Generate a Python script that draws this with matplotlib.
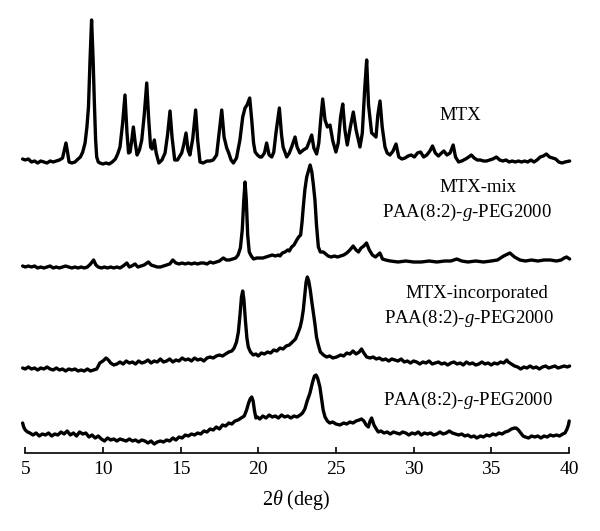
"""
XRD patterns of MTX, the MTX / PAA(8:2)-g-PEG2000 physical mix, the
MTX-incorporated polymer and the bare polymer, stacked with vertical offsets.
"""

import matplotlib
matplotlib.use("Agg")
import matplotlib.pyplot as plt

# --------------------------------------------------------------------------- #
# Data (2theta in deg, intensity in arbitrary units above each trace baseline)
# --------------------------------------------------------------------------- #

MTX_X = [4.83, 5.0, 5.2, 5.4, 5.6, 5.8, 6.0, 6.2, 6.4, 6.6, 6.8, 7.0, 7.2, 7.4,
         7.52, 7.62, 7.72, 7.82, 8.0, 8.2, 8.4, 8.55, 8.7, 8.85, 8.97, 9.07,
         9.17, 9.27, 9.37, 9.45, 9.53, 9.6, 9.7, 9.81, 10.0, 10.2, 10.4, 10.6,
         10.8, 10.95, 11.1, 11.27, 11.42, 11.55, 11.65, 11.75, 11.85, 11.96,
         12.08, 12.2, 12.35, 12.5, 12.66, 12.82, 12.95, 13.07, 13.17, 13.31,
         13.43, 13.6, 13.8, 14.0, 14.16, 14.32, 14.45, 14.62, 14.8, 14.95,
         15.07, 15.2, 15.35, 15.48, 15.6, 15.78, 15.97, 16.1, 16.25, 16.45,
         16.7, 16.9, 17.1, 17.32, 17.5, 17.65, 17.8, 17.97, 18.1, 18.25, 18.4,
         18.6, 18.82, 19.0, 19.15, 19.28, 19.45, 19.58, 19.7, 19.8, 19.95,
         20.1, 20.22, 20.4, 20.54, 20.7, 20.87, 21.0, 21.14, 21.36, 21.5, 21.6,
         21.83, 22.0, 22.15, 22.37, 22.5, 22.68, 22.9, 23.12, 23.3, 23.44,
         23.58, 23.76, 23.9, 24.02, 24.15, 24.3, 24.45, 24.62, 24.8, 25.0,
         25.15, 25.3, 25.44, 25.58, 25.73, 25.93, 26.12, 26.3, 26.55, 26.7,
         26.85, 26.98, 27.1, 27.3, 27.45, 27.58, 27.7, 27.84, 27.98, 28.16,
         28.3, 28.48, 28.68, 28.87, 29.05, 29.25, 29.45, 29.65, 29.85, 30.05,
         30.25, 30.45, 30.65, 30.85, 31.05, 31.22, 31.4, 31.6, 31.8, 31.95,
         32.15, 32.35, 32.55, 32.7, 32.9, 33.1, 33.35, 33.55, 33.72, 33.9, 34.1,
         34.3, 34.5, 34.7, 34.9, 35.1, 35.33, 35.55, 35.75, 35.95, 36.15,
         36.35, 36.55, 36.75, 36.95, 37.15, 37.35, 37.55, 37.75, 37.95, 38.15,
         38.35, 38.55, 38.75, 38.95, 39.15, 39.35, 39.55, 39.75, 40.05]
MTX_Y = [6, 5, 6, 3, 4, 2, 4, 3, 2, 4, 3, 4, 5, 7,
         15, 22, 13, 3, 2, 3, 6, 8, 13, 22, 38, 58,
         105, 145, 105, 62, 25, 8, 3, 2, 1, 2, 1, 3,
         6, 11, 18, 42, 70, 32, 12, 13, 24, 38,
         22, 10, 15, 25, 50, 82, 45, 18, 16, 25,
         12, 2, 5, 12, 30, 54, 28, 5, 5, 9,
         12, 20, 32, 15, 10, 26, 55, 25, 3, 2,
         4, 4, 5, 10, 35, 55, 28, 17, 12, 5, 2,
         7, 25, 48, 57, 60, 67, 45, 22, 13, 10,
         8, 8, 12, 22, 10, 8, 13, 32, 57, 30, 18,
         8, 12, 18, 28, 18, 12, 15, 17, 24, 30,
         17, 11, 22, 45, 66, 45, 38, 40, 24, 13,
         22, 48, 61, 35, 20, 38, 53, 35, 18, 32,
         75, 105, 60, 32, 30, 28, 50, 64, 38, 18,
         12, 10, 14, 21, 8, 6, 7, 9, 10, 8,
         12, 13, 8, 10, 14, 19, 12, 9, 12, 14,
         10, 12, 20, 8, 3, 4, 6, 8, 10, 7, 5,
         5, 4, 4, 5, 6, 8, 5, 4, 5, 3,
         4, 3, 4, 3, 4, 3, 5, 3, 5, 8,
         9, 11, 8, 7, 6, 3, 2, 3, 4]

MIX_X = [4.83, 5.0, 5.2, 5.4, 5.6, 5.8, 6.0, 6.2, 6.4, 6.6, 6.8, 7.0, 7.2, 7.4,
         7.6, 7.8, 8.0, 8.2, 8.4, 8.6, 8.8, 9.0, 9.2, 9.4, 9.55, 9.7, 9.9,
         10.1, 10.3, 10.5, 10.7, 10.9, 11.1, 11.3, 11.54, 11.7, 11.85, 12.07,
         12.25, 12.45, 12.65, 12.93, 13.1, 13.3, 13.5, 13.7, 13.9, 14.1, 14.3,
         14.5, 14.7, 14.9, 15.1, 15.3, 15.5, 15.7, 15.9, 16.1, 16.3, 16.5,
         16.7, 16.9, 17.1, 17.3, 17.5, 17.75, 17.95, 18.15, 18.35, 18.55,
         18.7, 18.85, 18.97, 19.07, 19.15, 19.23, 19.32, 19.42, 19.55, 19.7,
         19.9, 20.1, 20.3, 20.5, 20.7, 20.9, 21.1, 21.3, 21.4, 21.55, 21.72,
         21.9, 22.0, 22.15, 22.3, 22.48, 22.6, 22.73, 22.82, 22.9, 23.0,
         23.12, 23.25, 23.34, 23.45, 23.55, 23.65, 23.75, 23.87, 24.0, 24.19,
         24.35, 24.5, 24.7, 24.9, 25.1, 25.3, 25.5, 25.7, 25.9, 26.11, 26.3,
         26.45, 26.62, 26.8, 26.97, 27.15, 27.35, 27.55, 27.83, 28.0, 28.2,
         28.5, 29.0, 29.5, 30.0, 30.5, 31.0, 31.5, 32.0, 32.4, 32.78, 33.1,
         33.5, 34.0, 34.5, 35.0, 35.4, 35.8, 36.2, 36.5, 36.85, 37.2, 37.6,
         38.0, 38.4, 38.8, 39.2, 39.5, 39.7, 39.85, 40.05]
MIX_Y = [4, 3, 4, 3, 4, 2, 3, 2, 3, 4, 2, 3, 2, 3,
         4, 3, 2, 3, 2, 3, 2, 3, 6, 10, 5, 3, 2,
         3, 2, 3, 2, 3, 2, 4, 7, 3, 4, 6,
         3, 4, 5, 8, 5, 4, 3, 3, 4, 5, 6,
         10, 7, 6, 7, 6, 7, 6, 7, 6, 7, 7,
         6, 8, 7, 8, 9, 12, 10, 10, 11, 12,
         15, 22, 40, 70, 88, 70, 35, 18, 14, 11,
         12, 12, 12, 13, 14, 15, 14, 15, 14, 17, 18,
         20, 19, 23, 25, 30, 33, 35, 48, 63, 80,
         93, 100, 105, 98, 85, 70, 45, 23, 18, 18,
         16, 14, 13, 14, 13, 14, 15, 17, 20, 24, 20,
         18, 22, 24, 27, 20, 15, 13, 17, 11, 10,
         9, 8, 9, 8, 8, 9, 8, 9, 9, 11, 9,
         8, 9, 8, 9, 10, 14, 17, 13, 10, 9, 10,
         9, 10, 10, 9, 10, 12, 13, 11]

INC_X = [4.83, 5.0, 5.2, 5.4, 5.6, 5.8, 6.0, 6.2, 6.4, 6.6, 6.8, 7.0, 7.2, 7.4,
         7.6, 7.8, 8.0, 8.2, 8.4, 8.6, 8.8, 9.0, 9.2, 9.4, 9.6, 9.8, 10.0,
         10.2, 10.35, 10.5, 10.7, 10.9, 11.1, 11.3, 11.5, 11.7, 11.9, 12.1,
         12.3, 12.5, 12.7, 12.9, 13.1, 13.3, 13.5, 13.7, 13.9, 14.1, 14.3,
         14.5, 14.7, 14.9, 15.1, 15.3, 15.5, 15.7, 15.9, 16.1, 16.3, 16.5,
         16.7, 16.9, 17.1, 17.3, 17.5, 17.7, 17.9, 18.1, 18.3, 18.45, 18.6,
         18.72, 18.83, 18.92, 19.0, 19.08, 19.17, 19.27, 19.36, 19.5, 19.68,
         19.85, 20.0, 20.2, 20.4, 20.6, 20.8, 21.0, 21.2, 21.4, 21.6, 21.8,
         22.0, 22.2, 22.4, 22.58, 22.7, 22.8, 22.9, 23.0, 23.08, 23.16, 23.25,
         23.35, 23.45, 23.55, 23.65, 23.75, 23.87, 24.0, 24.2, 24.4, 24.6,
         24.8, 25.05, 25.3, 25.5, 25.7, 25.9, 26.1, 26.3, 26.5, 26.65, 26.8,
         26.98, 27.2, 27.4, 27.6, 27.8, 28.0, 28.2, 28.4, 28.6, 28.8, 29.0,
         29.2, 29.4, 29.6, 29.8, 30.0, 30.2, 30.4, 30.6, 30.8, 31.0, 31.2,
         31.4, 31.6, 31.8, 32.0, 32.2, 32.4, 32.6, 32.8, 33.0, 33.2, 33.4,
         33.6, 33.8, 34.0, 34.2, 34.4, 34.6, 34.8, 35.0, 35.2, 35.4, 35.6,
         35.8, 36.0, 36.1, 36.3, 36.5, 36.7, 36.9, 37.1, 37.3, 37.5, 37.7,
         37.9, 38.1, 38.3, 38.5, 38.7, 38.9, 39.1, 39.3, 39.5, 39.7, 39.9,
         40.05]
INC_Y = [4, 3, 5, 3, 4, 2, 4, 3, 5, 3, 2, 4, 2, 3,
         1, 3, 2, 3, 1, 2, 1, 3, 1, 2, 3, 9, 11,
         14, 12, 9, 7, 8, 10, 8, 11, 9, 10, 8,
         11, 9, 10, 12, 9, 11, 10, 13, 10, 11, 13,
         10, 12, 11, 14, 12, 13, 11, 14, 12, 13, 11,
         14, 15, 14, 16, 17, 16, 18, 20, 21, 24, 30,
         40, 58, 75, 81, 72, 52, 34, 25, 20, 17,
         18, 16, 19, 18, 20, 19, 22, 21, 24, 23, 26,
         27, 30, 33, 40, 45, 52, 62, 78, 90, 95, 91,
         82, 70, 59, 48, 35, 27, 20, 17, 15, 16,
         14, 15, 17, 16, 19, 18, 21, 18, 20, 23, 19,
         15, 14, 15, 13, 14, 12, 13, 11, 13, 12, 11,
         13, 10, 11, 9, 11, 10, 8, 10, 9, 11, 8,
         9, 10, 8, 9, 7, 9, 10, 8, 9, 7, 10,
         8, 9, 7, 8, 10, 8, 9, 7, 9, 8, 10,
         9, 12, 10, 8, 6, 5, 3, 5, 4, 6, 4,
         5, 3, 5, 6, 4, 5, 6, 4, 5, 6, 5,
         6]

PAA_X = [4.83, 4.9, 5.0, 5.15, 5.3, 5.5, 5.7, 5.9, 6.1, 6.3, 6.5, 6.7, 6.9,
         7.1, 7.3, 7.5, 7.7, 7.9, 8.1, 8.3, 8.5, 8.7, 8.9, 9.1, 9.3, 9.5, 9.7,
         9.9, 10.1, 10.3, 10.5, 10.7, 10.9, 11.1, 11.3, 11.5, 11.7, 11.9, 12.1,
         12.3, 12.5, 12.7, 12.9, 13.1, 13.3, 13.5, 13.7, 13.9, 14.1, 14.3,
         14.5, 14.7, 14.9, 15.1, 15.3, 15.5, 15.7, 15.9, 16.1, 16.3, 16.5,
         16.7, 16.9, 17.1, 17.3, 17.5, 17.7, 17.9, 18.1, 18.3, 18.5, 18.7,
         18.9, 19.1, 19.25, 19.38, 19.48, 19.58, 19.67, 19.76, 19.85, 19.95,
         20.1, 20.3, 20.5, 20.7, 20.9, 21.1, 21.3, 21.5, 21.7, 21.9, 22.1,
         22.3, 22.5, 22.7, 22.85, 23.0, 23.15, 23.33, 23.5, 23.62, 23.72,
         23.82, 23.97, 24.08, 24.18, 24.3, 24.45, 24.6, 24.8, 25.0, 25.26,
         25.5, 25.7, 25.9, 26.1, 26.3, 26.5, 26.65, 26.8, 26.95, 27.09, 27.2,
         27.3, 27.45, 27.6, 27.73, 27.9, 28.1, 28.3, 28.5, 28.7, 28.9, 29.1,
         29.3, 29.5, 29.7, 29.9, 30.1, 30.3, 30.5, 30.7, 30.9, 31.1, 31.3,
         31.5, 31.7, 31.9, 32.1, 32.3, 32.5, 32.7, 32.9, 33.1, 33.3, 33.5,
         33.7, 33.9, 34.07, 34.3, 34.5, 34.7, 34.9, 35.1, 35.3, 35.5, 35.7,
         35.9, 36.1, 36.3, 36.5, 36.6, 36.75, 36.9, 37.05, 37.2, 37.4, 37.6,
         37.8, 38.0, 38.2, 38.4, 38.6, 38.8, 39.0, 39.2, 39.4, 39.6, 39.75,
         39.88, 39.97, 40.02]
PAA_Y = [22, 18, 15, 13, 12, 10, 12, 9, 11, 10, 12, 9, 11,
         10, 13, 11, 14, 10, 12, 9, 13, 11, 12, 8, 10, 7, 9,
         6, 4, 7, 5, 6, 4, 6, 5, 4, 6, 4, 5,
         3, 5, 4, 2, 4, 1, 3, 4, 3, 5, 4,
         7, 5, 8, 7, 10, 9, 11, 10, 12, 11, 14,
         13, 16, 15, 18, 16, 20, 19, 22, 21, 24, 25,
         27, 29, 35, 42, 46, 48, 44, 34, 27, 28,
         26, 29, 27, 30, 28, 29, 27, 30, 28, 29, 27,
         29, 28, 30, 32, 36, 44, 52, 63, 69, 70,
         67, 58, 46, 35, 28, 24, 22, 23, 21, 20,
         22, 21, 23, 22, 24, 25, 26, 24, 20, 18, 24,
         27, 20, 16, 13, 14, 12, 13, 11, 13, 12, 11,
         13, 12, 10, 12, 11, 13, 10, 12, 11, 12, 10,
         11, 13, 11, 12, 14, 12, 11, 10, 11, 9, 10,
         8, 9, 7, 9, 8, 10, 9, 11, 10, 12, 11,
         13, 14, 16, 17, 17, 15, 12, 9, 8, 7, 9,
         8, 9, 7, 9, 8, 10, 9, 10, 9, 11, 12,
         16, 20, 24]

TRACES = [
    (MTX_X, MTX_Y, 288),
    (MIX_X, MIX_Y, 183),
    (INC_X, INC_Y, 81),
    (PAA_X, PAA_Y, 8),
]

# (text, x in deg, y in plot units)
LABELS = [
    ("MTX", 33.0, 338),
    ("MTX-mix", 34.15, 265),
    ("PAA(8:2)-$g$-PEG2000", 33.45, 241),
    ("MTX-incorporated", 34.05, 160),
    ("PAA(8:2)-$g$-PEG2000", 33.6, 135),
    ("PAA(8:2)-$g$-PEG2000", 33.5, 53),
]

X_TICKS = [5, 10, 15, 20, 25, 30, 35, 40]

plt.rcParams["font.family"] = ["Liberation Serif", "DejaVu Serif"]
plt.rcParams["mathtext.fontset"] = "custom"
plt.rcParams["mathtext.rm"] = "Liberation Serif"
plt.rcParams["mathtext.it"] = "Liberation Serif:italic"


def main() -> None:
    fig = plt.figure(figsize=(6.0, 5.31), dpi=100)
    ax = fig.add_axes([20.6 / 600, 78 / 531, (572 - 20.6) / 600, 453 / 531])

    for xs, ys, off in TRACES:
        ax.plot(xs, [v + off for v in ys], color="black", lw=2.4,
                solid_joinstyle="round", solid_capstyle="round")

    for txt, x, y in LABELS:
        ax.text(x, y, txt, ha="center", va="center", fontsize=13.5)

    ax.set_xlim(4.7, 40.2)
    ax.set_ylim(0, 453)
    for side in ("top", "right", "left"):
        ax.spines[side].set_visible(False)
    ax.spines["bottom"].set_bounds(5, 40)
    ax.spines["bottom"].set_linewidth(1.2)
    ax.set_yticks([])
    ax.set_xticks(X_TICKS)
    ax.set_xticklabels([str(t) for t in X_TICKS])
    ax.tick_params(axis="x", direction="in", length=4, width=1.2,
                   labelsize=14, pad=6)
    ax.set_xlabel(r"2$\theta$ (deg)", fontsize=14.5, labelpad=7)

    fig.savefig("out.png", dpi=100)
    plt.close(fig)


if __name__ == "__main__":
    main()
